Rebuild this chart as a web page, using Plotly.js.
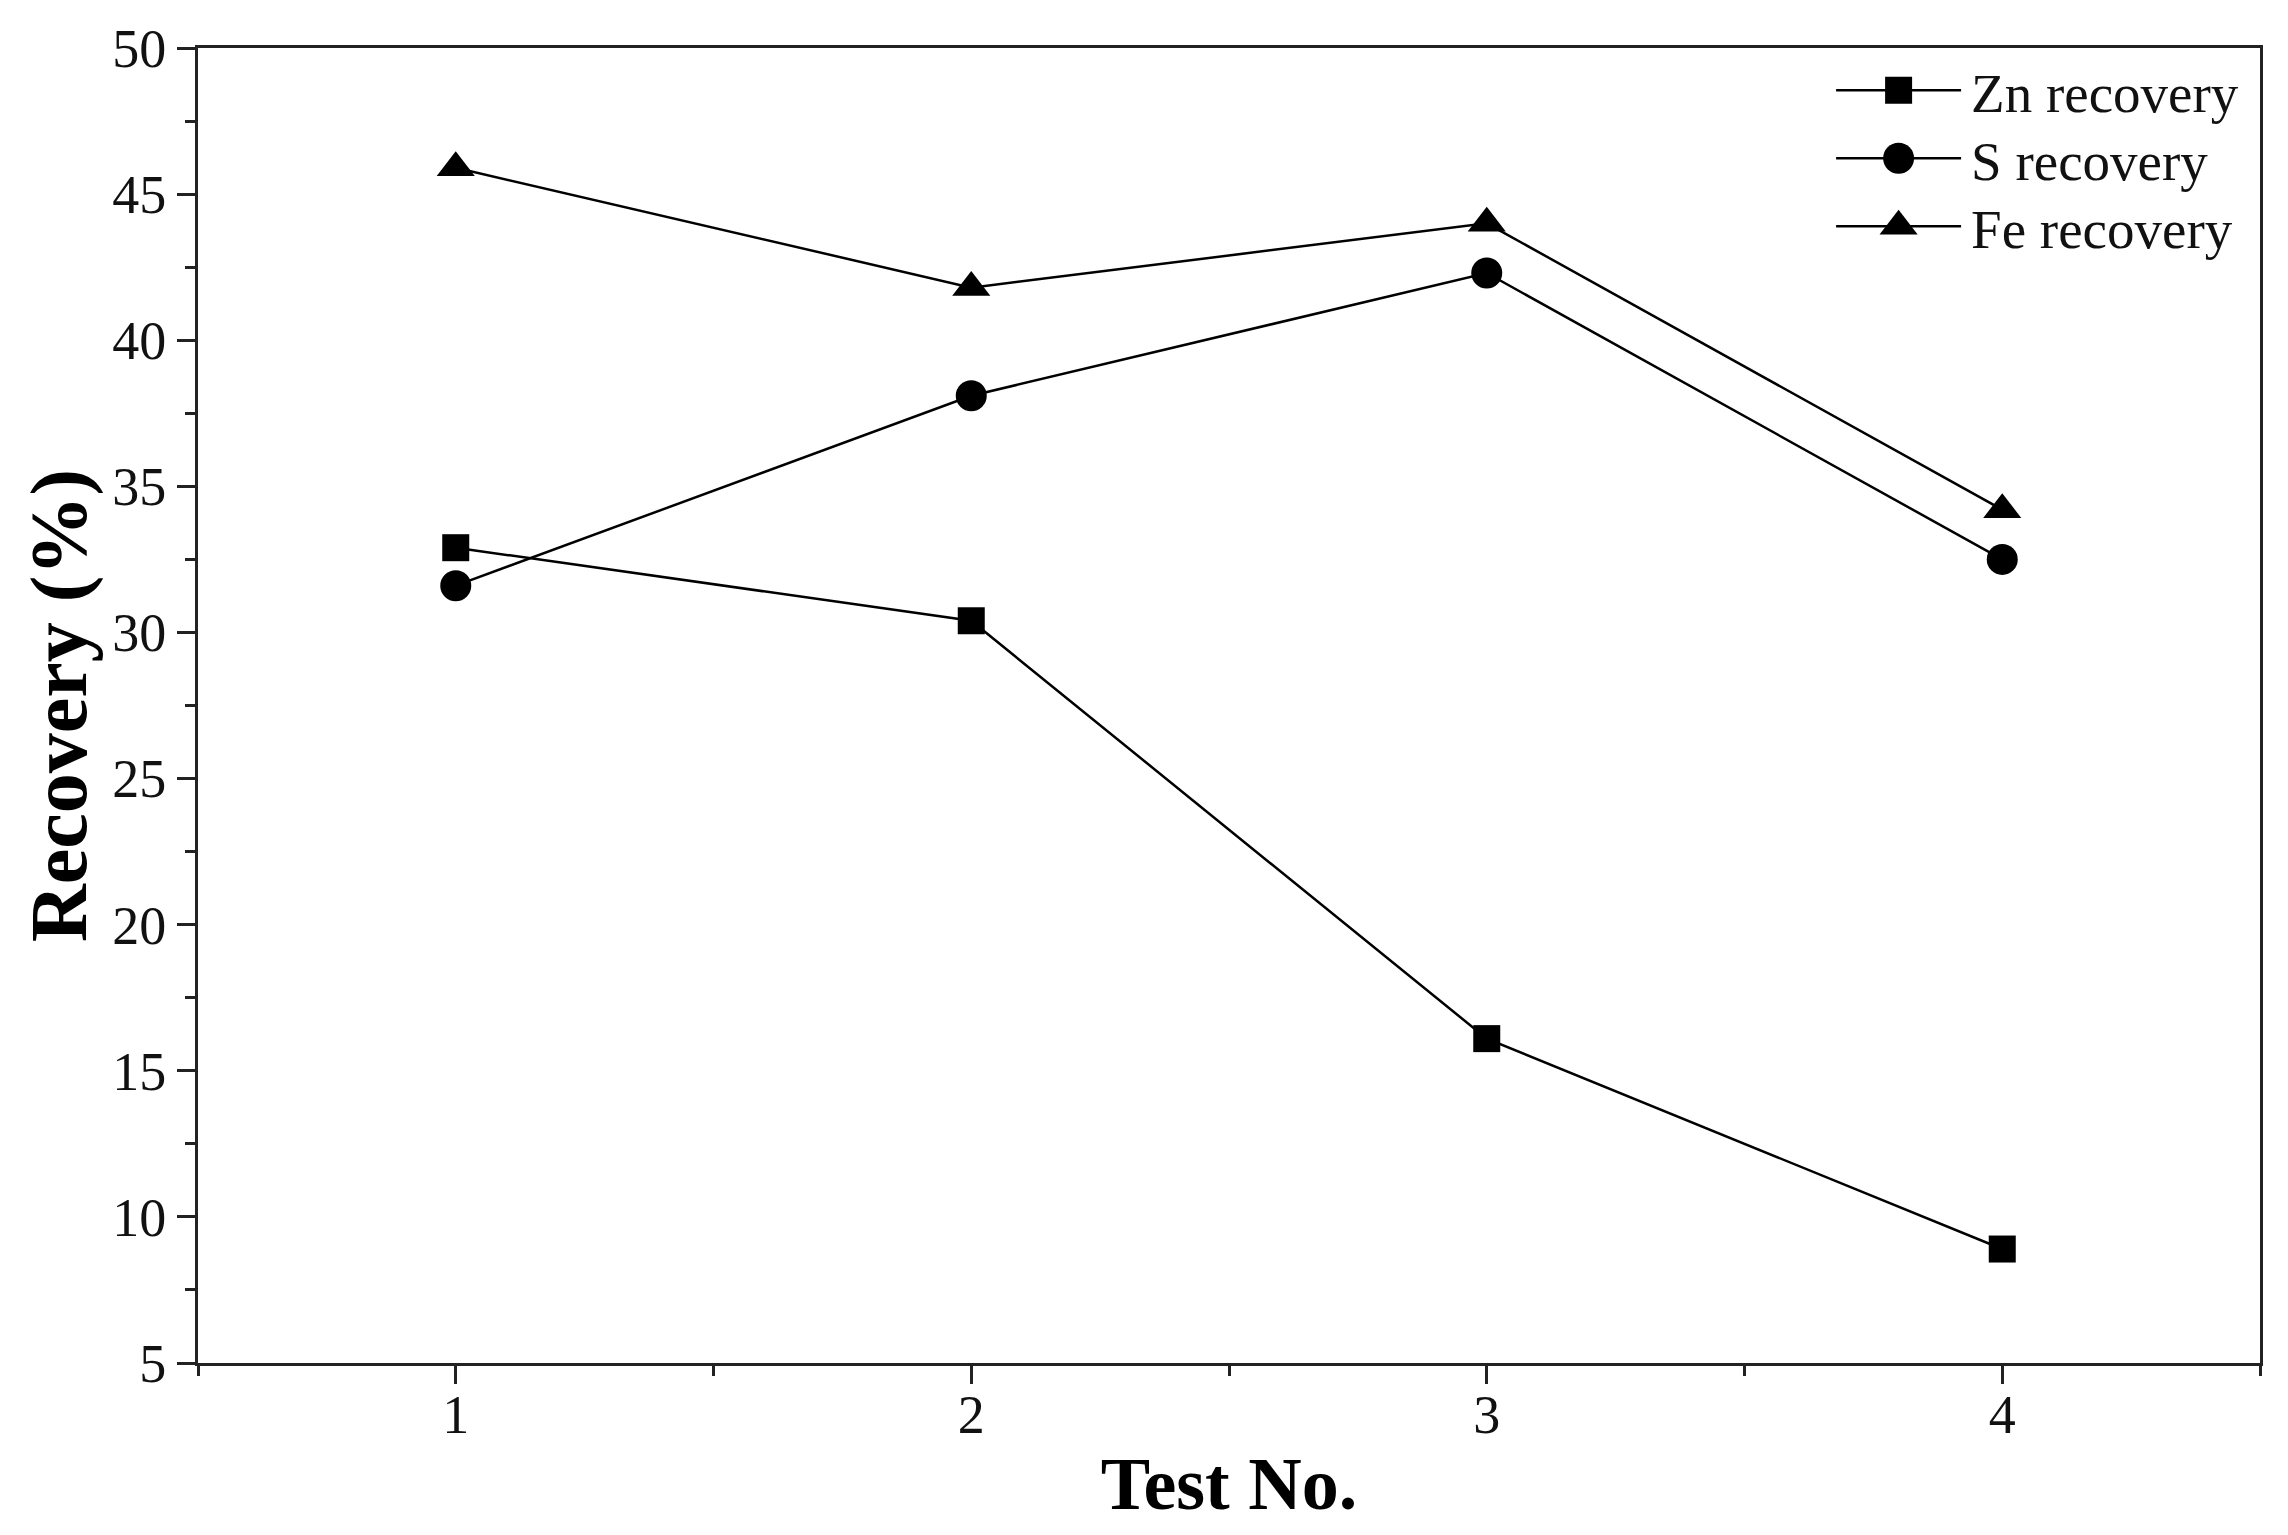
<!DOCTYPE html>
<html>
<head>
<meta charset="utf-8">
<script src="https://cdn.plot.ly/plotly-3.0.1.min.js"></script>
<style>
  html, body { margin: 0; padding: 0; background: #fff; }
  #chart { width: 2288px; height: 1535px; }
</style>
</head>
<body>
<div id="chart"></div>
<script>
'use strict';

// Data
let testNo = [1, 2, 3, 4];
let znRecovery = [32.9, 30.4, 16.1, 8.9];
let sRecovery = [31.6, 38.1, 42.3, 32.5];
let feRecovery = [45.9, 41.8, 44.0, 34.2];

let serif = '"Liberation Serif", "Times New Roman", Times, serif';
let legendItemWidth = 130;
let legendRowGap = 68;

function makeTrace(y, name, symbol, size) {
    return {
        x: testNo,
        y: y,
        name: name,
        type: 'scatter',
        mode: 'lines+markers',
        line: { color: '#000', width: 2.5 },
        marker: { symbol: symbol, size: size, color: '#000' }
    };
}

let data = [
    makeTrace(znRecovery, 'Zn recovery', 'square', 27),
    makeTrace(sRecovery, 'S recovery', 'circle', 31),
    makeTrace(feRecovery, 'Fe recovery', 'triangle-up', 33)
];

let axisCommon = {
    showgrid: false,
    zeroline: false,
    showline: true,
    linecolor: '#222',
    linewidth: 3,
    mirror: true,
    ticks: 'outside',
    ticklen: 18,
    tickwidth: 3,
    tickcolor: '#222',
    tickfont: { family: serif, size: 54, color: '#111' }
};

let layout = {
    width: 2288,
    height: 1535,
    margin: { l: 198, r: 28, t: 48, b: 172 },
    paper_bgcolor: '#fff',
    plot_bgcolor: '#fff',
    showlegend: true,
    legend: {
        x: 0.792,
        y: 1.0,
        xanchor: 'left',
        yanchor: 'top',
        itemwidth: legendItemWidth,
        bgcolor: 'rgba(0,0,0,0)',
        font: { family: serif, size: 55, color: '#111' }
    },
    xaxis: Object.assign({}, axisCommon, {
        range: [0.5, 4.5],
        tickmode: 'linear',
        tick0: 1,
        dtick: 1,
        ticklabelstandoff: -16,
        minor: { dtick: 0.5, tick0: 0.5, ticks: 'outside', ticklen: 10, tickwidth: 3, tickcolor: '#222' },
        title: {
            text: 'Test No.',
            font: { family: serif, size: 74, color: '#000', weight: 'bold' },
            standoff: 14
        }
    }),
    yaxis: Object.assign({}, axisCommon, {
        range: [5, 50],
        tickmode: 'linear',
        tick0: 5,
        dtick: 5,
        minor: { dtick: 2.5, tick0: 5, ticks: 'outside', ticklen: 10, tickwidth: 3, tickcolor: '#222' },
        title: {
            text: 'Recovery (%)',
            font: { family: serif, size: 80, color: '#000', weight: 'bold' },
            standoff: 0
        }
    })
};

let config = {
    displayModeBar: false,
    staticPlot: true
};

// Plotly draws legend symbols with a short line and capped marker size;
// stretch them to look like the original legend and tighten the rows
function widenLegend(gd) {
    let items = gd.querySelectorAll('.legend .traces');
    let first = null;
    items.forEach(function (item, i) {
        let m = /translate\(\s*([-\d.]+)[ ,]+([-\d.]+)/.exec(item.getAttribute('transform') || '');
        if (m) {
            if (first === null) first = [parseFloat(m[1]), parseFloat(m[2])];
            item.setAttribute('transform', 'translate(' + first[0] + ',' + (first[1] + i * legendRowGap) + ')');
        }
        let line = item.querySelector('.legendlines path');
        if (line) {
            line.setAttribute('d', 'M5,0h' + (legendItemWidth - 5));
            line.style.strokeWidth = '2.5px';
        }
        let pt = item.querySelector('.legendpoints path');
        if (pt) {
            let k = data[i].marker.size / 16;
            pt.setAttribute('transform', 'translate(' + (5 + (legendItemWidth - 5) / 2) + ',0) scale(' + k + ')');
        }
    });
}

Plotly.newPlot('chart', data, layout, config).then(widenLegend);
</script>
</body>
</html>
